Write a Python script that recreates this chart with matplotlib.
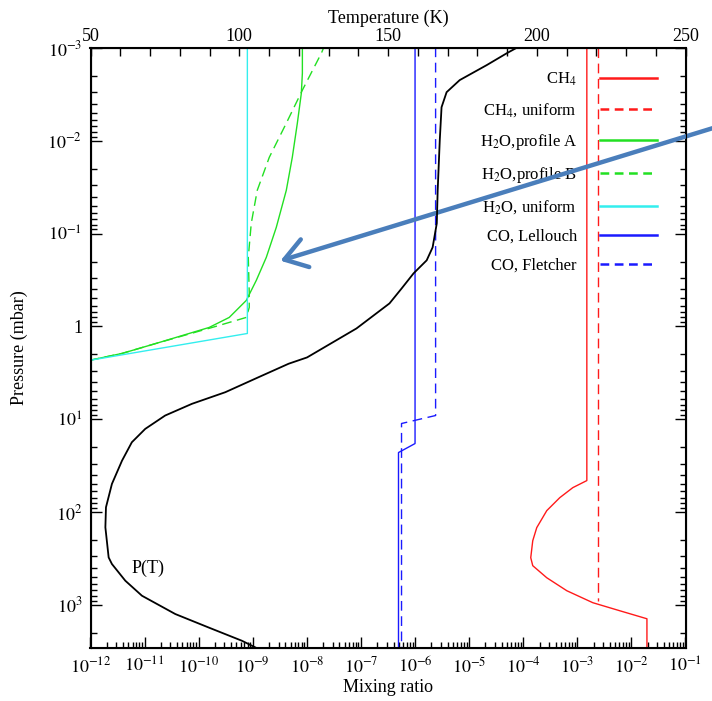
import matplotlib
matplotlib.use("Agg")
import matplotlib.pyplot as plt
import numpy as np
from matplotlib.ticker import LogLocator, FuncFormatter, MultipleLocator, NullFormatter

plt.rcParams['font.family'] = ['Liberation Serif', 'DejaVu Serif']
plt.rcParams['mathtext.fontset'] = 'stix'

# ---- data ----
# temperature profile P(T): log10 pressure (mbar) and temperature (K)
pt_logp = [-3.10, -3.01, -2.945, -2.816, -2.654, -2.524, -2.362, -2.006, -1.467, -1.111,
           -0.852, -0.712, -0.572, -0.41, -0.248, 0.022, 0.334, 0.402, 0.547, 0.709,
           0.834, 0.960, 1.104, 1.248, 1.446, 1.697, 1.949, 2.165, 2.489, 2.56,
           2.74, 2.902, 3.099, 3.244, 3.387, 3.50]
pt_temp = [197.0, 193.7, 190.0, 183.2, 174.1, 169.7, 168.0, 167.4, 166.7, 166.4,
           165.0, 163.0, 158.6, 154.6, 150.5, 139.4, 122.8, 116.6, 106.5, 95.3,
           84.1, 75.1, 68.4, 63.9, 60.6, 57.2, 55.2, 55.0, 56.1, 57.2,
           61.7, 67.3, 78.5, 89.7, 100.9, 108.0]

# CH4
ch4_logp = [-3.5, 1.661, 1.737, 1.845, 1.985, 2.168, 2.309, 2.492, 2.578, 2.708,
            2.848, 2.977, 3.064, 3.15, 3.6]
ch4_logq = [-2.824, -2.824, -3.083, -3.324, -3.565, -3.75, -3.824, -3.861, -3.824, -3.565,
            -3.194, -2.713, -2.213, -1.713, -1.713]
ch4u_logp = [-3.5, 2.956]
ch4u_logq = [-2.62, -2.62]

# H2O
h2oa_logp = [-3.5, -2.729, -2.513, -2.19, -1.823, -1.467, -1.068, -0.744, -0.496, -0.28,
             -0.097, 0.011, 0.183, 0.291, 0.367, 3.6]
h2oa_logq = [-8.083, -8.083, -8.102, -8.176, -8.269, -8.38, -8.565, -8.75, -8.935, -9.12,
             -9.435, -9.806, -10.787, -11.417, -12.03, -12.03]
h2ob_logp = [-3.2, -2.945, -2.546, -2.19, -1.823, -1.467, -1.111, -0.744, -0.356, -0.205,
             -0.097, -0.043, 0.011, 0.183, 0.291, 0.367, 3.6]
h2ob_logq = [-7.55, -7.731, -8.083, -8.38, -8.694, -8.917, -9.028, -9.083, -9.065, -9.065,
             -9.12, -9.435, -9.75, -10.787, -11.417, -12.03, -12.03]
h2ou_logp = [-3.5, 0.076, 0.367, 3.6]
h2ou_logq = [-9.10, -9.10, -12.03, -12.03]

# CO
col_logp = [-3.5, 1.262, 1.359, 3.6]
col_logq = [-6.0, -6.0, -6.306, -6.306]
cof_logp = [-3.5, 0.96, 1.046, 3.6]
cof_logq = [-5.62, -5.62, -6.25, -6.25]

series = [
    (ch4_logq, ch4_logp, 'CH$_4$', '#ff1a1a', '-'),
    (ch4u_logq, ch4u_logp, 'CH$_4$, uniform', '#ff1a1a', '--'),
    (h2oa_logq, h2oa_logp, 'H$_2$O,profile A', '#22e022', '-'),
    (h2ob_logq, h2ob_logp, 'H$_2$O,profile B', '#22e022', '--'),
    (h2ou_logq, h2ou_logp, 'H$_2$O, uniform', '#33eeee', '-'),
    (col_logq, col_logp, 'CO, Lellouch', '#1a1aff', '-'),
    (cof_logq, cof_logp, 'CO, Fletcher', '#1a1aff', '--'),
]

fig = plt.figure(figsize=(7.12, 7.01), dpi=100)
ax = fig.add_axes([90.5 / 712, 1 - 648 / 701, 595 / 712, 600 / 701])

handles = []
for lq, lp, lab, col, ls in series:
    line, = ax.plot(10 ** np.array(lq), 10 ** np.array(lp), color=col, ls=ls,
                    lw=1.0, dashes=(7, 4) if ls == '--' else (None, None), label=lab)
    handles.append(line)

ax.set_xscale('log')
ax.set_yscale('log')
ax.set_xlim(1e-12, 1e-1)
ax.set_ylim(10 ** 3.465, 1e-3)

ax.xaxis.set_major_locator(LogLocator(base=10, numticks=20))
ax.xaxis.set_minor_locator(LogLocator(base=10, subs=np.arange(2, 10), numticks=20))
ax.xaxis.set_major_formatter(FuncFormatter(lambda v, p: r'$10^{%d}$' % round(np.log10(v))))
ax.xaxis.set_minor_formatter(NullFormatter())

def ylab(v, p):
    e = int(round(np.log10(v)))
    return '1' if e == 0 else r'$10^{%d}$' % e

ax.yaxis.set_major_locator(LogLocator(base=10, numticks=20))
ax.yaxis.set_minor_locator(LogLocator(base=10, subs=np.arange(2, 10), numticks=20))
ax.yaxis.set_major_formatter(FuncFormatter(ylab))
ax.yaxis.set_minor_formatter(NullFormatter())

ax.tick_params(which='both', direction='in', left=True, right=True, bottom=True, top=False,
               labelsize=13, width=1.0)
ax.tick_params(which='major', length=8, pad=6)
ax.tick_params(which='minor', length=4)
for s in ax.spines.values():
    s.set_linewidth(1.5)

ax.set_xlabel('Mixing ratio', fontsize=13, labelpad=2)
ax.set_ylabel('Pressure (mbar)', fontsize=13, labelpad=14)

# temperature axis on top
ax2 = ax.twiny()
ax2.plot(pt_temp, 10 ** np.array(pt_logp), color='black', lw=1.3)
ax2.set_xlim(50, 250)
ax2.xaxis.set_major_locator(MultipleLocator(50))
ax2.xaxis.set_minor_locator(MultipleLocator(10))
ax2.tick_params(which='both', direction='in', length=6, width=1.0, labelsize=13, pad=2)
ax2.set_xlabel('Temperature (K)', fontsize=13, labelpad=4)
ax2.text(69.5, 400, 'P(T)', fontsize=13, ha='center', va='center')

leg = ax.legend(handles=handles, loc='upper right', bbox_to_anchor=(0.952, 0.962),
                frameon=False, markerfirst=False, fontsize=12, handlelength=3.4,
                handletextpad=1.4, labelspacing=0.78, borderaxespad=0, borderpad=0)
for l in leg.get_lines():
    l.set_linewidth(1.8)
    if l.get_linestyle() == '--':
        l.set_dashes((3.5, 2.2))

# blue arrow drawn over the figure
ax.annotate('', xy=(2.9e-9, 0.2), xycoords='data',
            xytext=(1.01, 0.82), textcoords='figure fraction',
            arrowprops=dict(arrowstyle='->,head_length=0.6,head_width=0.4',
                            lw=3.2, color='#4a7ebb', mutation_scale=26),
            annotation_clip=False, zorder=10)

fig.savefig('out.png', dpi=100, facecolor='white')
